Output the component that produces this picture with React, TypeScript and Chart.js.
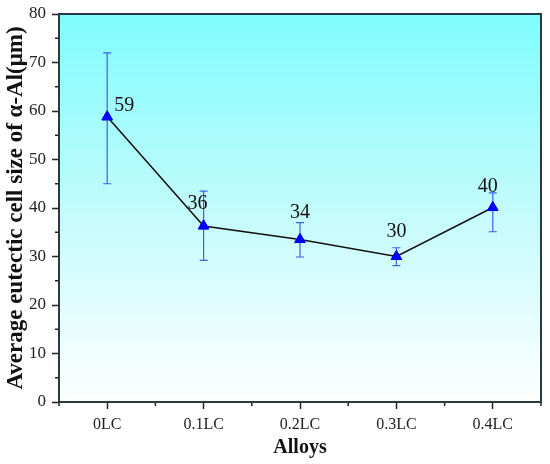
import { useEffect, useRef } from 'react';
import { Chart, registerables } from 'chart.js';

Chart.register(...registerables);

const alloys = ['0LC', '0.1LC', '0.2LC', '0.3LC', '0.4LC'];
const cellSize = [58.8, 36.3, 33.5, 30.0, 40.1];
const errHigh = [72, 43.5, 37, 31.8, 43.1];
const errLow = [45, 29.2, 29.9, 28.1, 35.1];
const pointLabels = ['59', '36', '34', '30', '40'];
// label nudges relative to the marker (px)
const labelDx = [17, -6, 0, 0, -5];
const labelDy = [-11, -22, -27, -25, -21];

const serif = "'Liberation Serif', 'Times New Roman', serif";

const decorPlugin = {
  id: 'decor',
  beforeDraw(chart: any) {
    const { ctx, chartArea: a } = chart;
    const g = ctx.createLinearGradient(0, a.top, 0, a.bottom);
    g.addColorStop(0, '#7ffcfd');
    g.addColorStop(0.5, '#c2fbfc');
    g.addColorStop(1, '#ffffff');
    ctx.save();
    ctx.fillStyle = g;
    ctx.fillRect(a.left, a.top, a.right - a.left, a.bottom - a.top);
    ctx.restore();
  },
  afterDatasetsDraw(chart: any) {
    const { ctx, chartArea: a, scales } = chart;
    const x = scales.x;
    const y = scales.y;
    ctx.save();
    // error bars
    ctx.strokeStyle = '#3f5fe8';
    ctx.lineWidth = 1.2;
    alloys.forEach((_, i) => {
      const px = x.getPixelForValue(i);
      const top = y.getPixelForValue(errHigh[i]);
      const bot = y.getPixelForValue(errLow[i]);
      ctx.beginPath();
      ctx.moveTo(px, top);
      ctx.lineTo(px, bot);
      ctx.moveTo(px - 4, top);
      ctx.lineTo(px + 4, top);
      ctx.moveTo(px - 4, bot);
      ctx.lineTo(px + 4, bot);
      ctx.stroke();
    });
    // redraw markers over the bars
    const meta = chart.getDatasetMeta(0);
    meta.data.forEach((pt: any) => pt.draw(ctx, a));
    // value labels
    ctx.fillStyle = '#111';
    ctx.font = `20px ${serif}`;
    ctx.textAlign = 'center';
    ctx.textBaseline = 'middle';
    pointLabels.forEach((t, i) => {
      const px = x.getPixelForValue(i);
      const py = y.getPixelForValue(cellSize[i]);
      ctx.fillText(t, px + labelDx[i], py + labelDy[i]);
    });
    ctx.restore();
  },
  afterDraw(chart: any) {
    const { ctx, chartArea: a, scales } = chart;
    ctx.save();
    ctx.strokeStyle = '#222';
    ctx.lineWidth = 1.5;
    // minor ticks on y
    for (let v = 5; v < 80; v += 10) {
      const py = scales.y.getPixelForValue(v);
      ctx.beginPath();
      ctx.moveTo(a.left, py);
      ctx.lineTo(a.left - 4, py);
      ctx.stroke();
    }
    // minor ticks on x at category boundaries
    for (let i = 0; i <= alloys.length; i++) {
      const px = scales.x.getPixelForValue(i - 0.5);
      ctx.beginPath();
      ctx.moveTo(px, a.bottom);
      ctx.lineTo(px, a.bottom + 4);
      ctx.stroke();
    }
    // frame
    ctx.strokeStyle = '#2b3a3f';
    ctx.lineWidth = 2;
    ctx.strokeRect(a.left, a.top, a.right - a.left, a.bottom - a.top);
    ctx.restore();
  },
};

const App = () => {
  const canvasRef = useRef<HTMLCanvasElement | null>(null);
  const chartRef = useRef<Chart | null>(null);

  useEffect(() => {
    document.body.style.margin = '0';
    if (!canvasRef.current) return;
    const ctx = canvasRef.current.getContext('2d');
    if (!ctx) return;
    if (chartRef.current) chartRef.current.destroy();

    chartRef.current = new Chart(ctx, {
      type: 'line',
      data: {
        labels: alloys,
        datasets: [
          {
            data: cellSize,
            borderColor: '#111',
            borderWidth: 1.5,
            pointStyle: 'triangle',
            pointRadius: 6,
            pointBackgroundColor: '#0000ff',
            pointBorderColor: '#0000ff',
            pointBorderWidth: 1,
            tension: 0,
          },
        ],
      },
      options: {
        animation: false,
        responsive: false,
        devicePixelRatio: 1,
        layout: { padding: { left: 2, top: 14, right: 9, bottom: 4 } },
        plugins: { legend: { display: false }, tooltip: { enabled: false } },
        scales: {
          x: {
            offset: true,
            afterFit: (s: any) => {
              s.height = 58;
            },
            grid: {
              display: true,
              drawOnChartArea: false,
              offset: false,
              tickLength: 7,
              tickWidth: 1.5,
              color: '#222',
            },
            border: { display: false },
            ticks: {
              color: '#222',
              padding: 6,
              font: { family: serif, size: 16 },
            },
            title: {
              display: true,
              text: 'Alloys',
              color: '#111',
              padding: { top: 2, bottom: 0 },
              font: { family: serif, size: 20, weight: 'bold' },
            },
          },
          y: {
            min: 0,
            max: 80,
            afterFit: (s: any) => {
              s.width = 57;
              s.paddingTop = 0;
              s.paddingBottom = 0;
            },
            grid: {
              display: true,
              drawOnChartArea: false,
              tickLength: 7,
              tickWidth: 1.5,
              color: '#222',
            },
            border: { display: false },
            ticks: {
              stepSize: 10,
              color: '#222',
              padding: 6,
              font: { family: serif, size: 17 },
            },
            title: {
              display: true,
              text: 'Average eutectic cell size of α-Al(μm)',
              color: '#111',
              padding: { top: 0, bottom: 0 },
              font: { family: serif, size: 23, weight: 'bold' },
            },
          },
        },
      },
      plugins: [decorPlugin],
    });

    return () => {
      if (chartRef.current) {
        chartRef.current.destroy();
        chartRef.current = null;
      }
    };
  }, []);

  return (
    <div style={{ width: 550, height: 464, background: '#fff' }}>
      <canvas ref={canvasRef} width={550} height={464}></canvas>
    </div>
  );
};

export default App;
